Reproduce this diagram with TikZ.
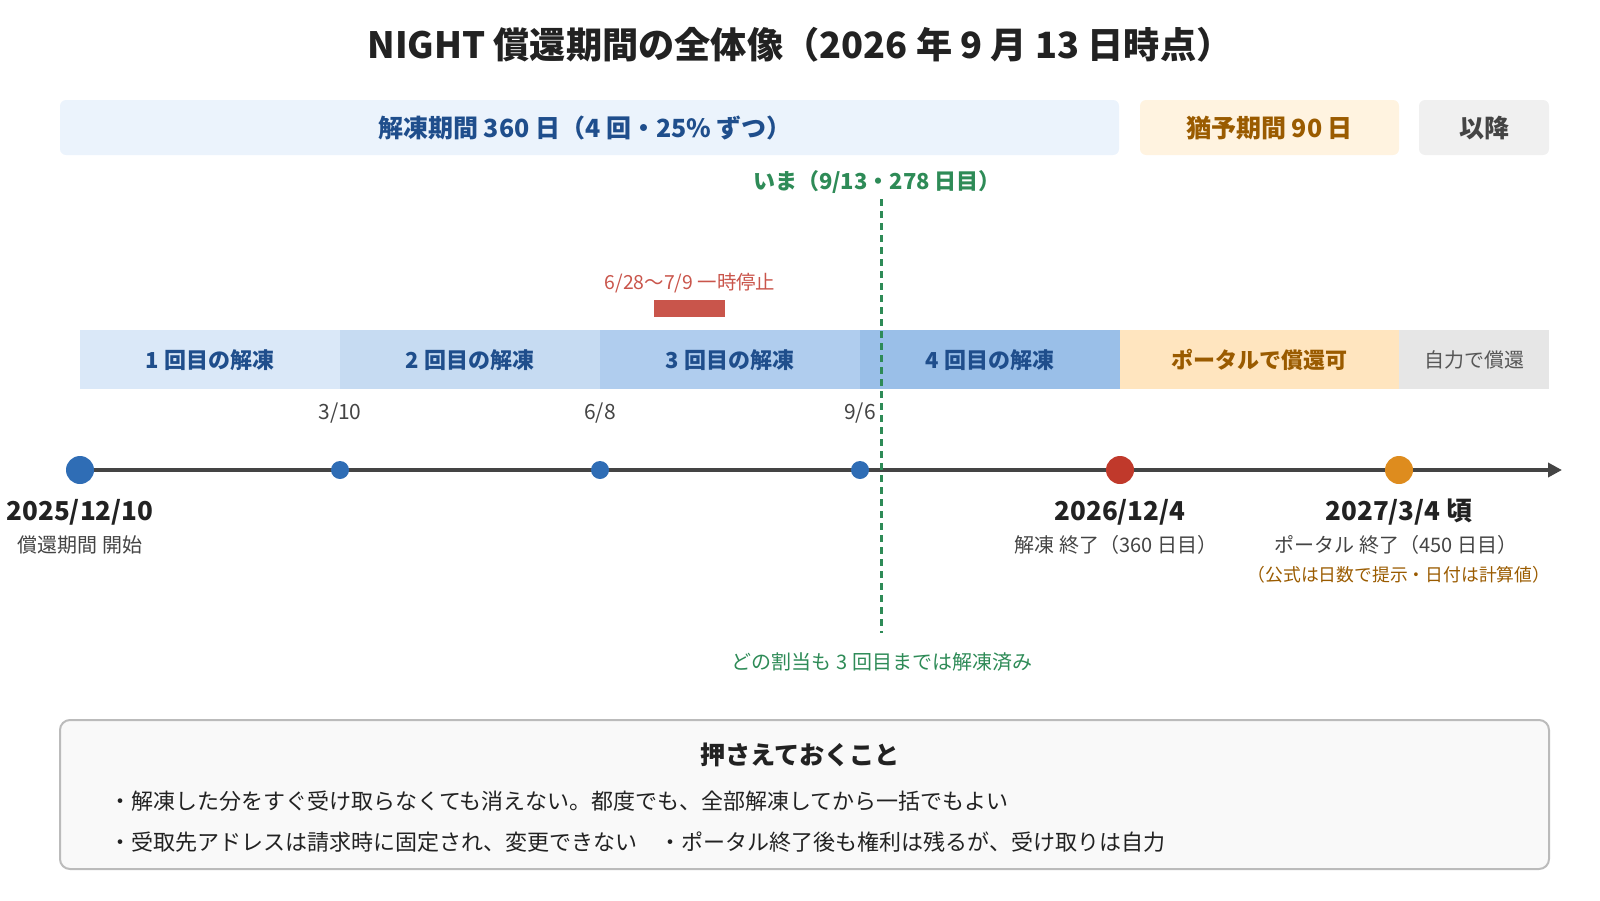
\documentclass[tikz,border=0pt]{standalone}
\usepackage{fontspec}
\setmainfont{Noto Sans CJK JP}
\usetikzlibrary{arrows.meta}

\definecolor{titlecol}{HTML}{222222}
\definecolor{navy}{HTML}{1F4E8C}
\definecolor{bannerblue}{HTML}{EBF3FC}
\definecolor{bannerorange}{HTML}{FFF3E0}
\definecolor{bannergray}{HTML}{F0F0F0}
\definecolor{brown}{HTML}{9A5B00}
\definecolor{segA}{HTML}{DAE8F8}
\definecolor{segB}{HTML}{C6DBF2}
\definecolor{segC}{HTML}{B0CDEE}
\definecolor{segD}{HTML}{9ABFE8}
\definecolor{segP}{HTML}{FFE5BF}
\definecolor{segS}{HTML}{E6E6E6}
\definecolor{dotblue}{HTML}{2F6DB5}
\definecolor{dotred}{HTML}{C0392B}
\definecolor{dotorange}{HTML}{DE8C1E}
\definecolor{nowgreen}{HTML}{2E8B57}
\definecolor{pausered}{HTML}{C9554B}
\definecolor{axisgray}{HTML}{444444}
\definecolor{textgray}{HTML}{444444}
\definecolor{boxfill}{HTML}{F9F9F9}
\definecolor{boxline}{HTML}{BBBBBB}

\newcommand{\fsTitle}{\fontsize{18.1pt}{21pt}\bfseries\selectfont}
\newcommand{\fsBanner}{\fontsize{12.5pt}{14pt}\bfseries\selectfont}
\newcommand{\fsSeg}{\fontsize{11pt}{13pt}\bfseries\selectfont}
\newcommand{\fsNow}{\fontsize{11pt}{13pt}\bfseries\selectfont}
\newcommand{\fsDate}{\fontsize{13pt}{15pt}\bfseries\selectfont}
\newcommand{\fsMark}{\fontsize{10.5pt}{12pt}\selectfont}
\newcommand{\fsSmall}{\fontsize{10pt}{12pt}\selectfont}
\newcommand{\fsPause}{\fontsize{9.7pt}{11pt}\selectfont}
\newcommand{\fsNote}{\fontsize{8.9pt}{10pt}\selectfont}
\newcommand{\fsBox}{\fontsize{12.6pt}{14pt}\bfseries\selectfont}
\newcommand{\fsBullet}{\fontsize{11pt}{13pt}\selectfont}

\tikzset{every picture/.style={line width=0.75pt}}
\tikzset{
  txt/.style={inner sep=0pt, anchor=center},
  dot/.style={circle, inner sep=0pt, minimum size=9pt},
  bigdot/.style={circle, inner sep=0pt, minimum size=14pt},
  axisline/.style={axisgray, line width=2.2pt, -{Triangle[length=7pt,width=7pt]}},
  nowline/.style={nowgreen, line width=1.5pt, dash pattern=on 3.6pt off 2.4pt},
}

\begin{document}
\begin{tikzpicture}[x=0.5pt,y=0.5pt,yscale=-1]
\path[use as bounding box] (0,0) rectangle (1600,900);

% Text Node
\node[txt, font=\fsTitle, text=titlecol] (title) at (800,45) {NIGHT 償還期間の全体像（2026 年 9 月 13 日時点）};

%Shape: Rectangle
\fill[bannerblue, rounded corners=3pt] (60,100) rectangle (1119,155);
%Shape: Rectangle
\fill[bannerorange, rounded corners=3pt] (1140,100) rectangle (1399,155);
%Shape: Rectangle
\fill[bannergray, rounded corners=3pt] (1419,100) rectangle (1549,155);

% Text Node
\node[txt, font=\fsBanner, text=navy] (unlockspan) at (585,128) {解凍期間 360 日（4 回・25\% ずつ）};
% Text Node
\node[txt, font=\fsBanner, text=brown] (gracespan) at (1269.5,128) {猶予期間 90 日};
% Text Node
\node[txt, font=\fsBanner, text=textgray] (afterspan) at (1484,128) {以降};

% Text Node
\node[txt, font=\fsNow, text=nowgreen] (nowlbl) at (877,182) {いま（9/13・278 日目）};

% Text Node
\node[txt, font=\fsPause, text=pausered] (pauselbl) at (690,283) {6/28〜7/9 一時停止};
%Shape: Rectangle
\fill[pausered] (654,300) rectangle (725,317);

%Shape: Rectangle
\fill[segA] (80,330) rectangle (340,389);
\fill[segB] (340,330) rectangle (600,389);
\fill[segC] (600,330) rectangle (860,389);
\fill[segD] (860,330) rectangle (1120,389);
\fill[segP] (1120,330) rectangle (1399,389);
\fill[segS] (1399,330) rectangle (1549,389);

% Text Node
\node[txt, font=\fsSeg, text=navy] (seg1) at (210,360) {1 回目の解凍};
\node[txt, font=\fsSeg, text=navy] (seg2) at (470,360) {2 回目の解凍};
\node[txt, font=\fsSeg, text=navy] (seg3) at (730,360) {3 回目の解凍};
\node[txt, font=\fsSeg, text=navy] (seg4) at (990,360) {4 回目の解凍};
\node[txt, font=\fsSeg, text=brown] (segportal) at (1259.5,360) {ポータルで償還可};
\node[txt, font=\fsSmall, text=textgray!90] (segself) at (1474,360) {自力で償還};

% Text Node
\node[txt, font=\fsMark, text=textgray] (d310) at (340,413) {3/10};
\node[txt, font=\fsMark, text=textgray] (d68) at (600,413) {6/8};
\node[txt, font=\fsMark, text=textgray] (d96) at (860,413) {9/6};

%Straight Lines
\coordinate (t0) at (80,470);
\coordinate (tend) at (1562,470);
\draw[axisline] (t0) -- (tend);

%Straight Lines
\coordinate (nowtop) at (881,199);
\coordinate (nowbot) at (881,633);
\draw[nowline] (nowtop) -- (nowbot);

% dots on the axis
\node[bigdot, fill=dotblue] (start) at (t0) {};
\node[dot, fill=dotblue] (m1) at (340,470) {};
\node[dot, fill=dotblue] (m2) at (600,470) {};
\node[dot, fill=dotblue] (m3) at (860,470) {};
\node[bigdot, fill=dotred] (unlockend) at (1120,470) {};
\node[bigdot, fill=dotorange] (portalend) at (1399,470) {};

% Text Node
\node[txt, font=\fsDate, text=titlecol] (startdate) at (80,512) {2025/12/10};
\node[txt, font=\fsSmall, text=textgray] (startsub) at (80,545) {償還期間 開始};
% Text Node
\node[txt, font=\fsDate, text=titlecol] (enddate) at (1120,512) {2026/12/4};
\node[txt, font=\fsSmall, text=textgray] (endsub) at (1116,545) {解凍 終了（360 日目）};
% Text Node
\node[txt, font=\fsDate, text=titlecol] (portaldate) at (1399,512) {2027/3/4 頃};
\node[txt, font=\fsSmall, text=textgray] (portalsub) at (1396,545) {ポータル 終了（450 日目）};
\node[txt, font=\fsNote, text=brown] (portalnote) at (1399,575) {（公式は日数で提示・日付は計算値）};

% Text Node
\node[txt, font=\fsSmall, text=nowgreen] (nownote) at (882,662) {どの割当も 3 回目までは解凍済み};

%Shape: Rectangle
\draw[boxline, fill=boxfill, line width=1pt, rounded corners=5pt] (60,720) rectangle (1549,869);

% Text Node
\node[txt, font=\fsBox, text=titlecol] (boxtitle) at (800,755) {押さえておくこと};
\node[txt, anchor=west, font=\fsBullet, text=titlecol] (bullet1) at (109,801) {・解凍した分をすぐ受け取らなくても消えない。都度でも、全部解凍してから一括でもよい};
\node[txt, anchor=west, font=\fsBullet, text=titlecol] (bullet2) at (109,842) {・受取先アドレスは請求時に固定され、変更できない　・ポータル終了後も権利は残るが、受け取りは自力};

\end{tikzpicture}
\end{document}
